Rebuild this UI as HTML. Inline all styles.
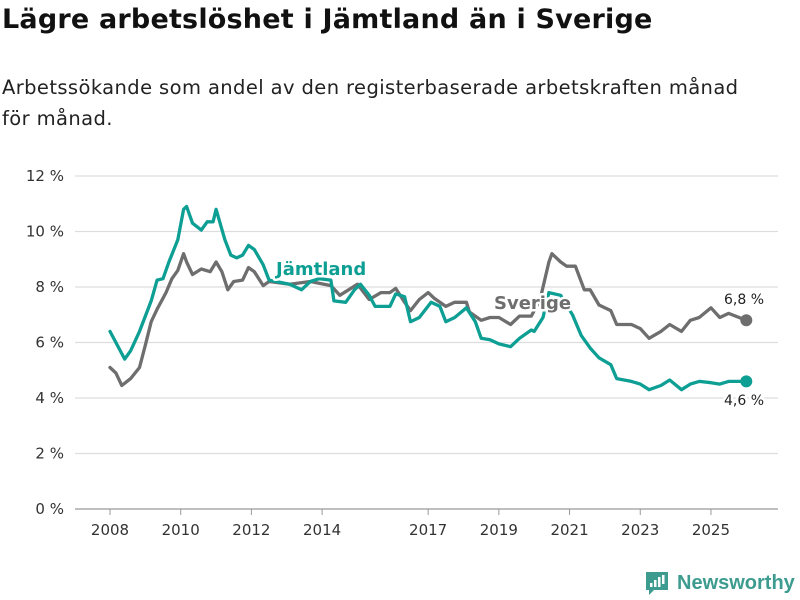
<!DOCTYPE html>
<html><head><meta charset="utf-8"><style>
body{margin:0;background:#fff;font-family:"Liberation Sans","DejaVu Sans",sans-serif;}
#wrap{position:relative;width:800px;height:600px;overflow:hidden;}
h1{position:absolute;left:2px;top:4px;margin:0;font-size:27px;font-weight:bold;color:#111;font-family:"DejaVu Sans",sans-serif;letter-spacing:0.2px;}
p.sub{position:absolute;left:2px;top:72px;margin:0;font-size:19.5px;line-height:31px;color:#222;width:798px;font-family:"DejaVu Sans",sans-serif;letter-spacing:0.4px;}
svg text{font-family:"DejaVu Sans",sans-serif;}
</style></head><body>
<div id="wrap">
<h1>Lägre arbetslöshet i Jämtland än i Sverige</h1>
<p class="sub">Arbetssökande som andel av den registerbaserade arbetskraften månad<br>för månad.</p>
<svg id="chart" width="800" height="600" style="position:absolute;left:0;top:0"></svg>
</div>
<script>
const yTicks=[0,2,4,6,8,10,12];
const xTickYears=[2008,2010,2012,2014,2017,2019,2021,2023,2025];
const jamtMonths=[0,2,5,7,10,14,16,18,20,23,25,26,28,31,33,35,36,39,41,43,45,47,49,52,54,61,65,68,71,75,76,80,83,85,88,90,95,97,100,102,105,109,112,114,117,121,124,126,129,132,136,139,143,144,147,149,153,157,160,163,166,170,172,177,180,183,187,190,194,197,200,204,207,210,216];
const jamtValues=[6.4,6.0,5.4,5.7,6.4,7.5,8.25,8.3,8.9,9.7,10.8,10.9,10.3,10.05,10.35,10.35,10.8,9.7,9.15,9.05,9.15,9.5,9.35,8.8,8.25,8.1,7.9,8.2,8.3,8.25,7.5,7.45,7.9,8.1,7.7,7.3,7.3,7.75,7.65,6.75,6.9,7.45,7.3,6.75,6.9,7.25,6.75,6.15,6.1,5.95,5.85,6.15,6.45,6.4,6.9,7.8,7.7,7.0,6.25,5.8,5.45,5.2,4.7,4.6,4.5,4.3,4.45,4.65,4.3,4.5,4.6,4.55,4.5,4.6,4.6];
const sveMonths=[0,2,4,7,10,12,14,16,19,21,23,25,26,28,31,34,36,38,40,42,45,47,49,52,54,61,68,75,78,81,84,88,92,95,97,100,102,105,108,110,114,117,121,122,126,129,132,136,139,143,146,149,150,153,155,158,161,163,166,170,172,177,180,183,187,190,194,197,200,204,207,210,216];
const sveValues=[5.1,4.9,4.45,4.7,5.1,5.9,6.75,7.2,7.8,8.3,8.6,9.2,8.9,8.45,8.65,8.55,8.9,8.55,7.9,8.2,8.25,8.7,8.55,8.05,8.2,8.1,8.2,8.05,7.7,7.9,8.1,7.55,7.8,7.8,7.95,7.45,7.15,7.55,7.8,7.6,7.3,7.45,7.45,7.1,6.8,6.9,6.9,6.65,6.95,6.95,7.55,8.9,9.2,8.9,8.75,8.75,7.9,7.9,7.35,7.15,6.65,6.65,6.5,6.15,6.4,6.65,6.4,6.8,6.9,7.25,6.9,7.05,6.8];
const endLabels=["6,8 %","4,6 %"];

const svg=document.getElementById('chart');const NS='http://www.w3.org/2000/svg';
const X0=110,PX_PER_YEAR=35.35,Y0=509,PX_PER_UNIT=27.75;
function xScale(m){return X0+m/12*PX_PER_YEAR;}
function yScale(v){return Y0-v*PX_PER_UNIT;}
function mk(tag,attrs,parent){const e=document.createElementNS(NS,tag);for(const k in attrs)e.setAttribute(k,attrs[k]);(parent||svg).appendChild(e);return e;}

yTicks.forEach(t=>{
  const l=mk('line',{x1:75,x2:778,y1:yScale(t),y2:yScale(t),stroke:t===0?'#999':'#ddd','stroke-width':1.2});
  
  
  const tx=mk('text',{x:64,y:yScale(t)+5,'text-anchor':'end','font-size':15,fill:'#333'});
  tx.textContent=t+' %';
  
  
});
xTickYears.forEach(yr=>{
  const x=xScale((yr-2008)*12);
  const l=mk('line',{x1:x,x2:x,y1:Y0,y2:Y0+6,stroke:'#999','stroke-width':1});
  
  
  const tx=mk('text',{x:x,y:Y0+26,'text-anchor':'middle','font-size':15,fill:'#333'});
  tx.textContent=yr;
  
  
});
function line(ms,vs,color,name){
  const d=ms.map((m,i)=>(i?'L':'M')+xScale(m).toFixed(1)+','+yScale(vs[i]).toFixed(1)).join('');
  const p=mk('path',{d:d,fill:'none',stroke:color,'stroke-width':3.3,'stroke-linejoin':'round','stroke-linecap':'round'});
  
  
  const last=ms.length-1;
  const c=mk('circle',{cx:xScale(ms[last]),cy:yScale(vs[last]),r:6,fill:color});
  
  
}
line(sveMonths,sveValues,'#6e6e6e','sverige-line');
line(jamtMonths,jamtValues,'#0e9f94','jamtland-line');
function lbl(txt,x,y,color,size,weight,name){
  const t=mk('text',{x:x,y:y,fill:color,'font-size':size,'font-weight':weight,stroke:'#fff','stroke-width':5,'paint-order':'stroke','stroke-linejoin':'round'});
  t.textContent=txt;
  
  
}
lbl('Jämtland',276,275,'#0e9f94',18,'bold','jamtland-series-label');
lbl('Sverige',494,309,'#6e6e6e',18,'bold','sverige-series-label');
lbl(endLabels[0],724,304,'#222',14,'normal','sverige-end-value');
lbl(endLabels[1],724,405,'#222',14,'normal','jamtland-end-value');
const g=mk('g',{});


mk('path',{d:'M646,572h22v18h-14l-5,5v-5h-3z',fill:'#3d9c8f'},g);
mk('rect',{x:650,y:583,width:2.5,height:4,fill:'#fff'},g);
mk('rect',{x:654,y:580,width:2.5,height:7,fill:'#fff'},g);
mk('rect',{x:658,y:577,width:2.5,height:10,fill:'#fff'},g);
mk('rect',{x:662,y:575,width:2.5,height:9,fill:'#fff'},g);
const lt=mk('text',{x:677,y:589,'font-size':20,fill:'#3d9c8f','font-weight':'bold',style:'font-family:"Liberation Sans",sans-serif'},g);
lt.textContent='Newsworthy';
</script>
</body></html>
